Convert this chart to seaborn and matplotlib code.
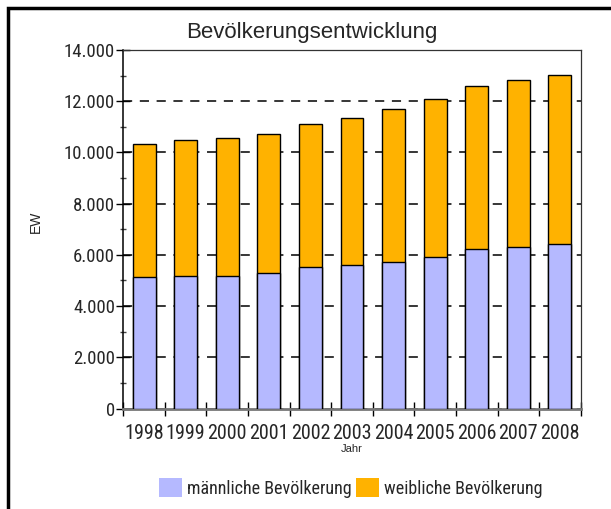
import numpy as np
import pandas as pd
import seaborn as sns
import matplotlib.pyplot as plt
from matplotlib import font_manager as fm
from matplotlib.patches import Rectangle, Patch
from matplotlib.ticker import FuncFormatter, MultipleLocator

# Werte
jahre = ['1998', '1999', '2000', '2001', '2002', '2003', '2004', '2005', '2006', '2007', '2008']
maennlich = [5125, 5165, 5190, 5280, 5515, 5605, 5720, 5920, 6230, 6310, 6425]
gesamt = [10320, 10475, 10565, 10735, 11115, 11360, 11710, 12100, 12610, 12815, 13040]
weiblich = [g - m for g, m in zip(gesamt, maennlich)]

farbe_m = '#b5b9ff'
farbe_w = '#ffb200'

df = pd.DataFrame({'Jahr': jahre, 'maennlich': maennlich, 'weiblich': weiblich})
df['gesamt'] = df['maennlich'] + df['weiblich']


def vorhanden(name):
    try:
        fm.findfont(fm.FontProperties(family=name), fallback_to_default=False)
        return True
    except ValueError:
        return False


plain = [f for f in ['Liberation Sans', 'Arial', 'DejaVu Sans'] if vorhanden(f)] or ['DejaVu Sans']
narrow = [f for f in ['Liberation Sans Narrow', 'Arial Narrow', 'Roboto Condensed'] if vorhanden(f)]
if narrow:
    narrow = narrow + plain
    xtick_size, ytick_size, leg_size = 14.5, 13.5, 13
else:
    narrow = plain
    xtick_size, ytick_size, leg_size = 12, 12, 11.5

sns.set_style('white')
plt.rcParams['font.family'] = plain

fig = plt.figure(figsize=(6.11, 5.09), dpi=100)
ax = fig.add_axes([0.2018, 0.1974, 0.7486, 0.7044])

# gestapelte Balken: zuerst Gesamt (weiblich oben), dann maennlich darueber
sns.barplot(data=df, x='Jahr', y='gesamt', color=farbe_w, saturation=1, width=0.55,
            edgecolor='black', linewidth=1, ax=ax, zorder=3)
sns.barplot(data=df, x='Jahr', y='maennlich', color=farbe_m, saturation=1, width=0.55,
            edgecolor='black', linewidth=1, ax=ax, zorder=4)

ax.set_xlim(-0.5, 10.5)
ax.set_ylim(0, 14000)

ax.yaxis.set_major_locator(MultipleLocator(2000))
ax.yaxis.set_minor_locator(MultipleLocator(1000))
ax.yaxis.set_major_formatter(FuncFormatter(lambda v, p: f"{v:,.0f}".replace(",", ".")))
ax.tick_params(axis='y', which='major', direction='inout', length=10, width=1, color='black',
               labelsize=ytick_size, pad=1, left=True)
ax.tick_params(axis='y', which='minor', direction='inout', length=5, width=1, color='#444444', left=True)

ax.set_xticks(range(len(jahre)))
ax.set_xticklabels(jahre)
ax.set_xticks(np.arange(-0.5, 11, 1), minor=True)
ax.tick_params(axis='x', which='major', length=0, labelsize=xtick_size, pad=11)
ax.tick_params(axis='x', which='minor', direction='inout', length=10, width=1, color='black', bottom=True)

for lab in ax.get_xticklabels() + ax.get_yticklabels():
    lab.set_family(narrow)

ax.grid(axis='y', which='major', color='black', linestyle=(0, (6, 5)), linewidth=1.1, zorder=1)
ax.set_axisbelow(True)

for s in ['top', 'right']:
    ax.spines[s].set_color('#333333')
    ax.spines[s].set_linewidth(0.9)
ax.spines['left'].set_color('black')
ax.spines['left'].set_linewidth(1.1)
ax.spines['bottom'].set_color('#777777')
ax.spines['bottom'].set_linewidth(2)

ax.set_xlabel('Jahr', fontsize=8, labelpad=1)
ax.set_ylabel('EW', fontsize=10)
ax.yaxis.set_label_coords(-0.175, 0.52)

fig.text(0.51, 0.937, 'Bevölkerungsentwicklung', ha='center', va='center', fontsize=16)

handles = [Patch(facecolor=farbe_m, edgecolor='none', label='männliche Bevölkerung'),
           Patch(facecolor=farbe_w, edgecolor='none', label='weibliche Bevölkerung')]
leg = fig.legend(handles=handles, loc='center', bbox_to_anchor=(0.574, 0.042), ncol=2, frameon=False,
                 handlelength=1.28, handleheight=1.28, handletextpad=0.28, columnspacing=0.2,
                 prop={'family': narrow, 'size': leg_size})

# Rahmen um die Grafik
fig.patches.append(Rectangle((8 / 611, -0.1), 1.2, 1 - 8 / 509 + 0.1, transform=fig.transFigure,
                             fill=False, edgecolor='black', linewidth=2.5))

fig.savefig('out.png', dpi=100)
